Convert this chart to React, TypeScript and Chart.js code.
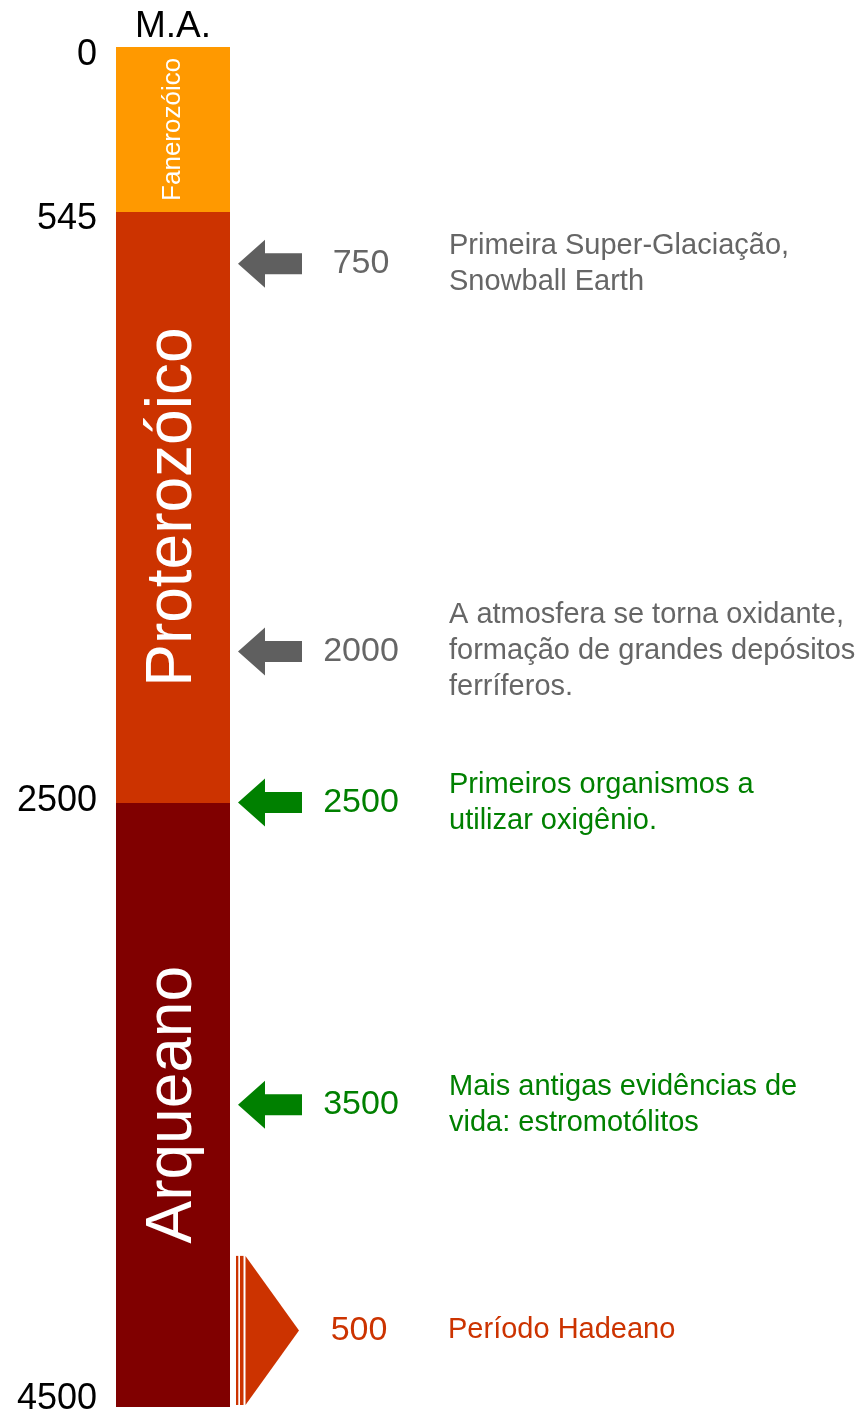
import React, { useEffect, useRef } from 'react';
import { Chart, registerables } from 'chart.js';

Chart.register(...registerables);

const FONT = '"Liberation Sans", Arial, sans-serif';

const axisLabel = 'M.A.';
const tickValues = [0, 545, 2500, 4500];

const eraNames = ['Fanerozóico', 'Proterozóico', 'Arqueano'];
const eraStart = [0, 545, 2500];
const eraEnd = [545, 2500, 4500];
const eraColors = ['#ff9900', '#cc3300', '#800000'];
const eraFontSizes = [26, 64, 64];

const eventAt = [717, 2000, 2500, 3500];
const eventLabels = ['750', '2000', '2500', '3500'];
const eventTexts = [
  ['Primeira Super-Glaciação,', 'Snowball Earth'],
  ['A atmosfera se torna oxidante,', 'formação de grandes depósitos', 'ferríferos.'],
  ['Primeiros organismos a', 'utilizar oxigênio.'],
  ['Mais antigas evidências de', 'vida: estromotólitos'],
];
const eventColors = ['#666666', '#666666', '#008000', '#008000'];

const hadeanRange = [4000, 4500];
const hadeanLabel = '500';
const hadeanText = 'Período Hadeano';
const hadeanColor = '#cc3300';

function drawArrow(ctx: CanvasRenderingContext2D, tipX: number, cy: number, color: string) {
  const headLen = 27;
  const headHalf = 24;
  const shaftHalf = 10.5;
  const total = 64;
  ctx.beginPath();
  ctx.moveTo(tipX, cy);
  ctx.lineTo(tipX + headLen, cy - headHalf);
  ctx.lineTo(tipX + headLen, cy - shaftHalf);
  ctx.lineTo(tipX + total, cy - shaftHalf);
  ctx.lineTo(tipX + total, cy + shaftHalf);
  ctx.lineTo(tipX + headLen, cy + shaftHalf);
  ctx.lineTo(tipX + headLen, cy + headHalf);
  ctx.closePath();
  ctx.fillStyle = color;
  ctx.fill();
}

const annotatePlugin = {
  id: 'annotate',
  afterDatasetsDraw(chart: any) {
    const ctx: CanvasRenderingContext2D = chart.ctx;
    const yScale = chart.scales.y;
    const right = chart.chartArea.right;

    // y-axis tick labels (positions from the scale, small hand nudges as in the source slide)
    const nudge = [8, 7, -1, -8];
    ctx.save();
    ctx.font = `36px ${FONT}`;
    ctx.fillStyle = '#000000';
    ctx.textAlign = 'right';
    ctx.textBaseline = 'middle';
    yScale.ticks.forEach((t: any, i: number) => {
      ctx.fillText(String(t.value), yScale.right - 19, yScale.getPixelForValue(t.value) + (nudge[i] || 0));
    });
    ctx.restore();

    // era names inside bars
    chart.data.datasets.forEach((_ds: any, i: number) => {
      const el = chart.getDatasetMeta(i).data[0];
      const cy = (el.y + el.base) / 2;
      ctx.save();
      ctx.translate(el.x, cy);
      ctx.rotate(-Math.PI / 2);
      ctx.font = `${eraFontSizes[i]}px ${FONT}`;
      ctx.fillStyle = '#ffffff';
      ctx.textAlign = 'center';
      ctx.textBaseline = 'middle';
      ctx.fillText(eraNames[i], 0, 0);
      ctx.restore();
    });

    // events
    eventAt.forEach((v, i) => {
      const py = yScale.getPixelForValue(v);
      const c = eventColors[i];
      ctx.save();
      drawArrow(ctx, right + 8, py, c === '#666666' ? '#5f5f5f' : c);
      ctx.fillStyle = c;
      ctx.font = `34px ${FONT}`;
      ctx.textAlign = 'center';
      ctx.textBaseline = 'middle';
      ctx.fillText(eventLabels[i], right + 131, py);
      ctx.font = `29px ${FONT}`;
      ctx.textAlign = 'left';
      const lines = eventTexts[i];
      const lh = 36;
      lines.forEach((t, k) => {
        ctx.fillText(t, right + 219, py + (k - (lines.length - 1) / 2) * lh);
      });
      ctx.restore();
    });

    // Hadean striped arrow
    const top = yScale.getPixelForValue(hadeanRange[0]);
    const bot = yScale.getPixelForValue(hadeanRange[1]) - 2;
    const mid = (top + bot) / 2;
    ctx.save();
    ctx.fillStyle = hadeanColor;
    ctx.fillRect(right + 6, top, 2.3, bot - top);
    ctx.fillRect(right + 10, top, 3.5, bot - top);
    ctx.beginPath();
    ctx.moveTo(right + 15.5, top);
    ctx.lineTo(right + 69, mid);
    ctx.lineTo(right + 15.5, bot);
    ctx.closePath();
    ctx.fill();
    ctx.font = `34px ${FONT}`;
    ctx.textAlign = 'center';
    ctx.textBaseline = 'middle';
    ctx.fillText(hadeanLabel, right + 129, mid);
    ctx.font = `29px ${FONT}`;
    ctx.textAlign = 'left';
    ctx.fillText(hadeanText, right + 218, mid);
    ctx.restore();
  },
};

export default function App() {
  const canvasRef = useRef<HTMLCanvasElement | null>(null);

  useEffect(() => {
    const canvas = canvasRef.current;
    if (!canvas) return;
    const chart = new Chart(canvas, {
      type: 'bar',
      data: {
        labels: [axisLabel],
        datasets: eraNames.map((name, i) => ({
          label: name,
          data: [[eraStart[i], eraEnd[i]]] as any,
          backgroundColor: eraColors[i],
          borderWidth: 0,
          barPercentage: 1,
          categoryPercentage: 1,
          grouped: false,
        })),
      },
      options: {
        responsive: false,
        animation: false,
        devicePixelRatio: 1,
        layout: { padding: { left: 0, top: 0, right: 635, bottom: 10 } },
        plugins: {
          legend: { display: false },
          tooltip: { enabled: false },
        },
        scales: {
          x: {
            position: 'top',
            grid: { display: false, drawTicks: false },
            border: { display: false },
            ticks: {
              color: '#000000',
              font: { family: FONT, size: 37 },
              padding: -2,
            },
            afterFit: (s: any) => {
              s.height = 47;
              s.paddingLeft = 0;
              s.paddingRight = 0;
            },
          },
          y: {
            reverse: true,
            min: 0,
            max: 4500,
            grid: { display: false, drawTicks: false },
            border: { display: false },
            afterBuildTicks: (s: any) => {
              s.ticks = tickValues.map((v) => ({ value: v }));
            },
            ticks: {
              display: false,
              autoSkip: false,
            },
            afterFit: (s: any) => {
              s.width = 116;
              s.paddingTop = 0;
              s.paddingBottom = 0;
            },
          },
        },
      },
      plugins: [annotatePlugin],
    });
    return () => chart.destroy();
  }, []);

  return (
    <div style={{ position: 'absolute', left: 0, top: 0, width: 865, height: 1417, background: '#ffffff' }}>
      <canvas ref={canvasRef} width={865} height={1417} style={{ display: 'block' }} />
    </div>
  );
}
